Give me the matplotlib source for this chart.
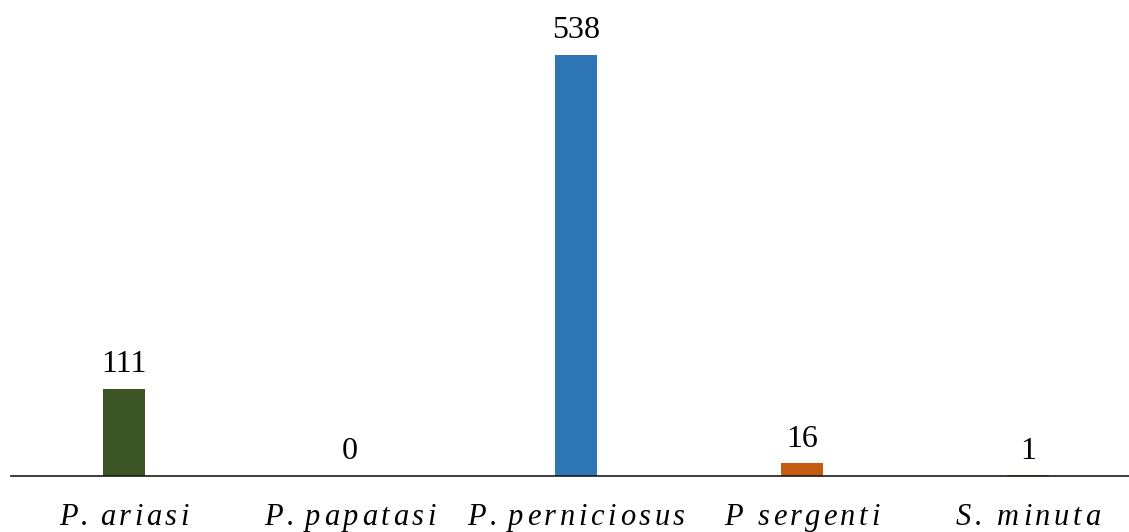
import matplotlib
matplotlib.use("Agg")
import matplotlib.pyplot as plt
from matplotlib.font_manager import FontProperties
from matplotlib.transforms import offset_copy

species = ["P. ariasi", "P. papatasi", "P. perniciosus", "P sergenti", "S. minuta"]
counts = [111, 0, 538, 16, 1]
bar_colors = ["#3b5524", "#2e75b6", "#2e75b6", "#c55a11", "#c55a11"]

W, H, DPI = 1129, 532, 100
fig = plt.figure(figsize=(W / DPI, H / DPI), dpi=DPI)
base_px = 476
ax = fig.add_axes([11 / W, (H - base_px) / H, 1130 / W, base_px / H])

x = list(range(len(species)))
bars = ax.bar(x, counts, width=0.186, color=bar_colors, zorder=2)
ax.set_xlim(-0.5, len(species) - 0.5)
ax.set_ylim(0, 538 * 476 / 421)

for s in ["top", "right", "left"]:
    ax.spines[s].set_visible(False)
ax.spines["bottom"].set_linewidth(1.2)
ax.spines["bottom"].set_color("#1a1a1a")
ax.spines["bottom"].set_zorder(3)
ax.set_yticks([])
ax.set_xticks([])

num_font = FontProperties(family="Liberation Serif", size=23)
for xi, v in zip(x, counts):
    ax.annotate(str(v), xy=(xi, v), xytext=(0, 12), textcoords="offset points",
                ha="center", va="baseline", fontproperties=num_font, color="black")

# Category names in letter-spaced italic serif
lab_font = FontProperties(family="Liberation Serif", style="italic", size=22)
renderer = fig.canvas.get_renderer()
tracking = 2.6  # extra points between characters
px_per_pt = DPI / 72.0


def text_width_pts(s):
    w, _, _ = renderer.get_text_width_height_descent(s + "x", lab_font, ismath=False)
    wx, _, _ = renderer.get_text_width_height_descent("x", lab_font, ismath=False)
    return (w - wx) / px_per_pt


label_offset_pts = -49 / px_per_pt
for xi, name in zip(x, species):
    total = text_width_pts(name) + tracking * (len(name) - 1)
    start = -total / 2
    for i, ch in enumerate(name):
        if ch == " ":
            continue
        dx = start + text_width_pts(name[:i]) + tracking * i
        tr = offset_copy(ax.get_xaxis_transform(), fig=fig, x=dx, y=label_offset_pts,
                         units="points")
        ax.text(xi, 0, ch, transform=tr, ha="left", va="baseline",
                fontproperties=lab_font, color="black", clip_on=False)

fig.savefig("out.png", dpi=DPI)
